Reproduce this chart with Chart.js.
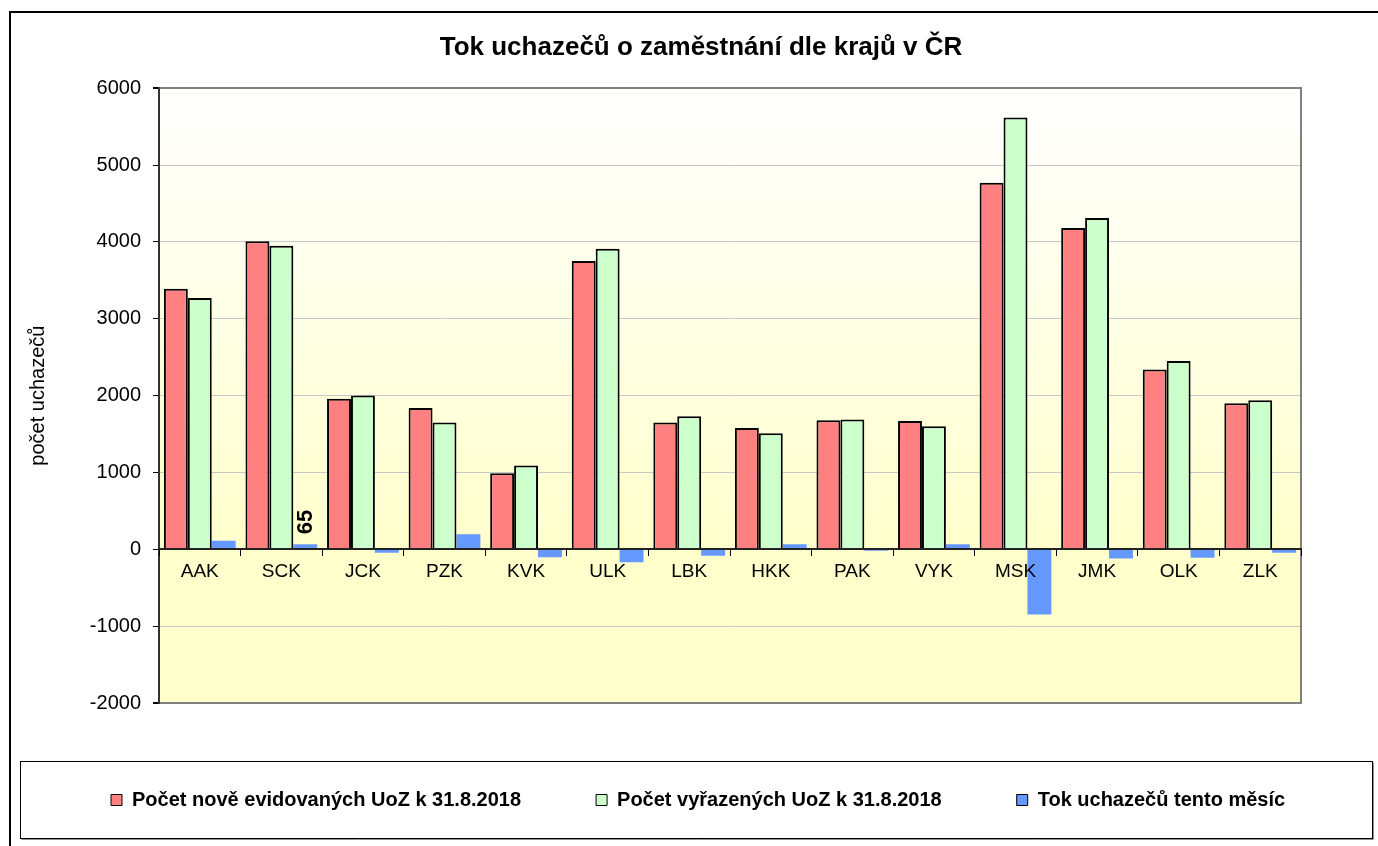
<!DOCTYPE html>
<html><head><meta charset="utf-8">
<script src="https://cdn.jsdelivr.net/npm/chart.js@4"></script>
<style>html,body{margin:0;padding:0;background:#fff}canvas{display:block}</style>
</head><body>
<canvas id="c" width="1378" height="846"></canvas>
<script>
const categories = ['AAK','SCK','JCK','PZK','KVK','ULK','LBK','HKK','PAK','VYK','MSK','JMK','OLK','ZLK'];
const newRegistered = [3390,4010,1960,1840,990,3750,1650,1580,1680,1670,4770,4180,2340,1900];
const removed = [3270,3950,2000,1650,1090,3910,1730,1510,1690,1600,5620,4310,2450,1940];
const flow = [110,65,-45,195,-105,-170,-85,65,-20,65,-850,-120,-110,-45];
const seriesNames = ['Počet nově evidovaných UoZ k 31.8.2018','Počet vyřazených UoZ k 31.8.2018','Tok uchazečů tento měsíc'];
const labeledFlow = [1];
const yMin = -2000, yMax = 6000, yStep = 1000;
const titleText = 'Tok uchazečů o zaměstnání dle krajů v ČR';
const yTitle = 'počet uchazečů';

Chart.defaults.font.family = "'Liberation Sans', Arial, sans-serif";
Chart.defaults.color = '#000';

const frame = {
  id: 'frame',
  beforeDraw(chart) {
    const {ctx, chartArea: a} = chart;
    ctx.save();
    ctx.fillStyle = '#fff';
    ctx.fillRect(0, 0, chart.width, chart.height);
    const zy = chart.scales.y.getPixelForValue(0);
    const f = (zy - a.top) / (a.bottom - a.top);
    const g = ctx.createLinearGradient(0, a.top, 0, a.bottom);
    g.addColorStop(0, '#FFFFFF');
    g.addColorStop(f, '#FFFFCC');
    g.addColorStop(1, '#FFFFCC');
    ctx.fillStyle = g;
    ctx.fillRect(a.left, a.top, a.right - a.left, a.bottom - a.top);
    ctx.fillStyle = '#000';
    ctx.fillRect(9, 11, 2, chart.height);
    ctx.fillRect(9, 11, chart.width, 2);
    ctx.restore();
  },
  afterDraw(chart) {
    const ctx = chart.ctx;
    ctx.save();
    ctx.lineWidth = 1;
    ctx.strokeStyle = '#909090';
    ctx.beginPath();
    ctx.moveTo(21.5, 839.5); ctx.lineTo(1373.5, 839.5); ctx.lineTo(1373.5, 762.5);
    ctx.stroke();
    ctx.strokeStyle = '#000';
    ctx.strokeRect(20.5, 761.5, 1352, 77);
    ctx.restore();
  }
};

const flowLabel = {
  id: 'flowLabel',
  afterDatasetsDraw(chart) {
    const meta = chart.getDatasetMeta(2);
    const ctx = chart.ctx;
    ctx.save();
    ctx.font = "bold 22px 'Liberation Sans', Arial, sans-serif";
    ctx.fillStyle = '#000';
    ctx.textAlign = 'left';
    ctx.textBaseline = 'middle';
    labeledFlow.forEach(i => {
      const el = meta.data[i];
      ctx.save();
      ctx.translate(el.x + 1, el.y - 10);
      ctx.rotate(-Math.PI / 2);
      ctx.fillText(String(flow[i]), 0, 0);
      ctx.restore();
    });
    ctx.restore();
  }
};

new Chart(document.getElementById('c'), {
  type: 'bar',
  data: {
    labels: categories,
    datasets: [
      {label: seriesNames[0], data: newRegistered, backgroundColor: '#FF8080', borderColor: '#000', borderWidth: 2},
      {label: seriesNames[1], data: removed, backgroundColor: '#CCFFCC', borderColor: '#000', borderWidth: 2},
      {label: seriesNames[2], data: flow, backgroundColor: '#6699FF', borderColor: '#6699FF', borderWidth: 0}
    ]
  },
  options: {
    responsive: false,
    animation: false,
    devicePixelRatio: 1,
    events: [],
    layout: {padding: {left: 36, right: 12, top: 0, bottom: 26}},
    datasets: {bar: {categoryPercentage: 0.88, barPercentage: 1}},
    plugins: {
      title: {display: true, text: titleText, color: '#000',
        font: {size: 26, weight: 'bold', lineHeight: 1.2}, padding: {top: 32, bottom: 25}},
      legend: {
        position: 'bottom', align: 'start',
        title: {display: true, text: ' ', font: {size: 12, lineHeight: 1}, padding: 0},
        labels: {
          color: '#000', font: {size: 20, weight: 'bold'}, boxWidth: 11, boxHeight: 11, padding: 75,
          generateLabels(chart) {
            const items = Chart.defaults.plugins.legend.labels.generateLabels(chart);
            items.forEach(it => { it.lineWidth = 1; it.strokeStyle = '#000'; });
            return items;
          }
        }
      },
      tooltip: {enabled: false}
    },
    scales: {
      x: {
        position: {y: 0},
        offset: true,
        grid: {display: true, drawOnChartArea: false, drawTicks: true, tickLength: 6, tickColor: '#000', offset: true, z: 1},
        border: {display: true, color: '#222', width: 2, z: 1},
        ticks: {color: '#000', font: {size: 19}, padding: 5, maxRotation: 0, autoSkip: false, z: 1}
      },
      y: {
        min: yMin, max: yMax,
        ticks: {stepSize: yStep, color: '#000', font: {size: 20}, padding: 12, callback: v => String(v)},
        grid: {
          color: c => (c.tick && (c.tick.value === yMax || c.tick.value === yMin)) ? '#808080' : '#C8C8C8',
          lineWidth: c => (c.tick && (c.tick.value === yMax || c.tick.value === yMin)) ? 2 : 1,
          tickColor: '#000', tickLength: 6
        },
        border: {display: true, color: '#333', width: 2},
        title: {display: true, text: yTitle, color: '#000', font: {size: 20, lineHeight: 1}, padding: {top: -8, bottom: 0}},
        afterFit(s) { s.width = 123; }
      },
      y2: {
        position: 'right', display: true,
        grid: {display: false}, ticks: {display: false},
        border: {display: true, color: '#808080', width: 2},
        afterFit(s) { s.width = 65; }
      }
    }
  },
  plugins: [frame, flowLabel]
});
</script>
</body></html>
